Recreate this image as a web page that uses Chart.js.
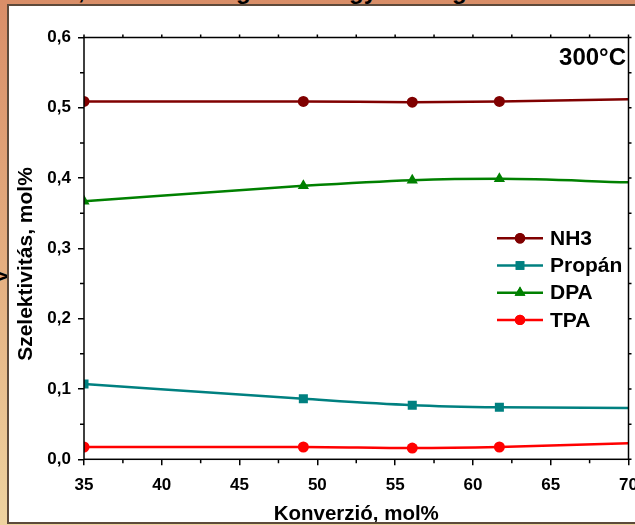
<!DOCTYPE html>
<html>
<head>
<meta charset="utf-8">
<script src="https://cdn.jsdelivr.net/npm/chart.js@4/dist/chart.umd.min.js"></script>
<style>
  html, body { margin: 0; padding: 0; }
  body {
    width: 635px; height: 525px; position: relative; overflow: hidden;
    background: linear-gradient(to bottom, #d98e68 0%, #e4ae80 50%, #efd3a0 100%);
    font-family: "Liberation Sans", Arial, sans-serif;
  }
  .frag { position: absolute; font-weight: bold; font-size: 24px; line-height: 24px; color: #000; white-space: pre; }
  #rot { position: absolute; left: -9px; top: 282px; font-weight: bold; font-size: 20px; line-height: 20px;
         transform: rotate(-90deg); transform-origin: 0 0; }
  #panel { position: absolute; left: 7px; top: 4px; width: 700px; height: 516px;
           border: 2px solid #5d4a3b; background: #fff; overflow: hidden; }
  #panel canvas { position: absolute; left: -9px; top: -6px; }
</style>
</head>
<body>
<span class="frag" style="left:78px;top:-21px">,</span>
<span class="frag" style="left:236px;top:-21px">g</span>
<span class="frag" style="left:349px;top:-21px">gy</span>
<span class="frag" style="left:452px;top:-21px">g</span>
<span id="rot">y</span>
<div id="panel"><canvas id="chart" width="635" height="525"></canvas></div>
<script>
// conversion (mol%) at each measurement
const conversion = [35, 49.1, 56.1, 61.7, 70];
const nh3 = [0.509, 0.509, 0.508, 0.509, 0.512];
const propan = [0.107, 0.086, 0.077, 0.074, 0.073];
const dpa = [0.367, 0.389, 0.397, 0.399, 0.394];
const tpa = [0.0175, 0.0175, 0.016, 0.0175, 0.023];
const seriesNames = ["NH3", "Propán", "DPA", "TPA"];
const seriesColors = ["#800000", "#008080", "#008000", "#ff0000"];
const seriesStyles = ["circle", "rect", "triangle", "circle"];
const seriesRadius = [5.5, 6.4, 6.5, 5.5];

const FONT = '"Liberation Sans", Arial, sans-serif';

function points(vals) {
  return conversion.map((x, i) => ({ x, y: vals[i] }));
}

const datasets = [nh3, propan, dpa, tpa].map((vals, i) => ({
  label: seriesNames[i],
  data: points(vals),
  borderColor: seriesColors[i],
  backgroundColor: seriesColors[i],
  borderWidth: 2.5,
  pointStyle: seriesStyles[i],
  // last point sits on the clipped right edge, no marker there
  pointRadius: conversion.map((_, j) => (j === conversion.length - 1 ? 0 : seriesRadius[i])),
  pointBorderWidth: 0,
  cubicInterpolationMode: "monotone",
  clip: { left: 0, top: 10, right: 0, bottom: 10 },
}));

const decor = {
  id: "decor",
  afterDraw(chart) {
    const { ctx, chartArea: a, scales } = chart;
    const x = scales.x, y = scales.y;
    ctx.save();
    ctx.strokeStyle = "#000";
    ctx.lineWidth = 1.5;
    ctx.strokeRect(a.left, a.top, a.right - a.left, a.bottom - a.top);

    // minor ticks + top/right ticks
    ctx.beginPath();
    for (let v = 35; v <= 70.01; v += 2.5) {
      const px = x.getPixelForValue(v);
      const major = Math.abs(v % 5) < 0.01;
      if (!major) { ctx.moveTo(px, a.bottom); ctx.lineTo(px, a.bottom + 4); }
      ctx.moveTo(px, a.top); ctx.lineTo(px, a.top - 3);
    }
    for (let v = 0; v <= 0.6001; v += 0.05) {
      const py = y.getPixelForValue(v);
      const major = Math.round(v * 100) % 10 === 0;
      if (!major) { ctx.moveTo(a.left, py); ctx.lineTo(a.left - 4, py); }
      ctx.moveTo(a.right, py); ctx.lineTo(a.right + 3, py);
    }
    ctx.stroke();

    // titles
    ctx.fillStyle = "#000";
    ctx.font = "bold 20.5px " + FONT;
    ctx.textAlign = "center";
    ctx.textBaseline = "alphabetic";
    ctx.fillText("Konverzió, mol%", (a.left + a.right) / 2, 520);
    ctx.save();
    ctx.font = "bold 21px " + FONT;
    ctx.translate(26.5, 264);
    ctx.rotate(-Math.PI / 2);
    ctx.textBaseline = "middle";
    ctx.fillText("Szelektivitás, mol%", 0, 0);
    ctx.restore();

    ctx.font = "bold 24px " + FONT;
    ctx.textAlign = "right";
    ctx.fillText("300°C", 626, 65);

    // legend
    ctx.font = "bold 21px " + FONT;
    ctx.textAlign = "left";
    ctx.textBaseline = "middle";
    chart.data.datasets.forEach((ds, i) => {
      const ly = 238.3 + 27.2 * i;
      ctx.strokeStyle = ds.borderColor;
      ctx.lineWidth = 2.5;
      ctx.beginPath();
      ctx.moveTo(497, ly); ctx.lineTo(543, ly);
      ctx.stroke();
      ctx.fillStyle = ds.backgroundColor;
      Chart.helpers.drawPoint(ctx, {
        pointStyle: ds.pointStyle,
        radius: seriesRadius[i] - 0.3,
        rotation: 0,
        borderWidth: 0,
      }, 520, ly);
      ctx.fill();
      ctx.fillStyle = "#000";
      ctx.fillText(ds.label, 550, ly + 1);
    });
    ctx.restore();
  },
};

new Chart(document.getElementById("chart"), {
  type: "line",
  data: { datasets },
  plugins: [decor],
  options: {
    responsive: false,
    animation: false,
    events: [],
    layout: { padding: { left: 0, top: 37.5, right: 4, bottom: 0 } },
    plugins: { legend: { display: false }, tooltip: { enabled: false } },
    scales: {
      x: {
        type: "linear",
        min: 35,
        max: 70,
        border: { display: false },
        grid: { drawOnChartArea: false, drawTicks: true, tickLength: 6, color: "#000", lineWidth: 1.5 },
        ticks: {
          stepSize: 5,
          autoSkip: false,
          maxRotation: 0,
          padding: 10,
          color: "#000",
          font: { family: FONT, size: 17, weight: "bold" },
        },
        afterFit(scale) {
          scale.height = 525 - 459.3;
          scale.paddingLeft = 0;
          scale.paddingRight = 0;
        },
      },
      y: {
        min: 0,
        max: 0.6,
        border: { display: false },
        grid: { drawOnChartArea: false, drawTicks: true, tickLength: 6, color: "#000", lineWidth: 1.5 },
        ticks: {
          stepSize: 0.1,
          padding: 7,
          color: "#000",
          font: { family: FONT, size: 17, weight: "bold" },
          callback: (v) => Number(v).toFixed(1).replace(".", ","),
        },
        afterFit(scale) {
          scale.width = 84;
        },
      },
    },
  },
});
</script>
</body>
</html>
